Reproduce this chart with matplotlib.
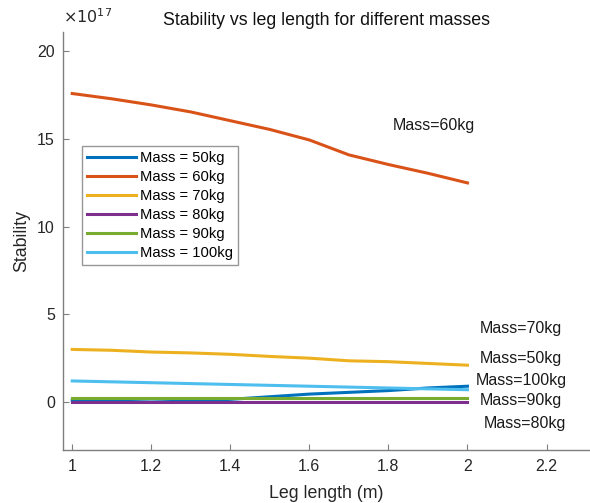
import matplotlib
matplotlib.use("Agg")
import matplotlib.pyplot as plt
from matplotlib.ticker import FuncFormatter
import numpy as np

plt.rcParams['font.family'] = ['Liberation Sans', 'DejaVu Sans']

leg_length = [1.0, 1.1, 1.2, 1.3, 1.4, 1.5, 1.6, 1.7, 1.8, 1.9, 2.0]
scale = 1e17
mass_50 = [0.10, 0.05, 0.00, 0.05, 0.15, 0.30, 0.45, 0.55, 0.65, 0.80, 0.90]
mass_60 = [17.6, 17.3, 16.95, 16.55, 16.05, 15.55, 14.95, 14.1, 13.55, 13.05, 12.5]
mass_70 = [3.0, 2.95, 2.85, 2.8, 2.72, 2.6, 2.5, 2.35, 2.3, 2.2, 2.1]
mass_80 = [0.0, 0.0, 0.0, 0.0, 0.0, 0.0, 0.0, 0.0, 0.0, 0.0, 0.0]
mass_90 = [0.2, 0.2, 0.2, 0.2, 0.2, 0.2, 0.2, 0.2, 0.2, 0.2, 0.2]
mass_100 = [1.2, 1.15, 1.1, 1.05, 1.0, 0.95, 0.9, 0.85, 0.8, 0.75, 0.7]

labels = ['Mass = 50kg', 'Mass = 60kg', 'Mass = 70kg', 'Mass = 80kg', 'Mass = 90kg', 'Mass = 100kg']
colors = ['#0072BD', '#D95319', '#EDB120', '#7E2F8E', '#77AC30', '#4DBEEE']
series = [mass_50, mass_60, mass_70, mass_80, mass_90, mass_100]

annot_text = ['Mass=60kg', 'Mass=70kg', 'Mass=50kg', 'Mass=100kg', 'Mass=90kg', 'Mass=80kg']
annot_x = [1.81, 2.03, 2.03, 2.02, 2.03, 2.04]
annot_y = [15.8, 4.17, 2.5, 1.2, 0.1, -1.2]

fig = plt.figure(figsize=(5.9, 5.03), dpi=100)
ax = fig.add_axes([0.107, 0.105, 0.893, 0.831])

for s, c, l in zip(series, colors, labels):
    ax.plot(leg_length, np.array(s) * scale, color=c, lw=2.2, label=l)

for t, x, y in zip(annot_text, annot_x, annot_y):
    ax.text(x, y * scale, t, fontsize=11.5, va='center', ha='left', color='#1a1a1a')

ax.set_xlim(0.977, 2.31)
ax.set_ylim(-2.75e17, 21.1e17)
ax.set_xticks([1, 1.2, 1.4, 1.6, 1.8, 2, 2.2])
ax.set_xticklabels(['1', '1.2', '1.4', '1.6', '1.8', '2', '2.2'])
ax.set_yticks(np.array([0, 5, 10, 15, 20]) * scale)
ax.yaxis.set_major_formatter(FuncFormatter(lambda v, p: f'{v / scale:g}'))
ax.text(0.0, 1.015, r'$\times10^{17}$', transform=ax.transAxes, fontsize=11.5,
        ha='left', va='bottom', color='#262626')

for sp in ['top', 'right']:
    ax.spines[sp].set_visible(False)
for sp in ['left', 'bottom']:
    ax.spines[sp].set_color('#7f7f7f')
    ax.spines[sp].set_linewidth(1.0)
ax.tick_params(direction='in', labelcolor='#262626', labelsize=11.5, length=4, width=0.8,
               color='#7f7f7f', pad=6)

ax.set_title('Stability vs leg length for different masses', fontsize=12.8, color='#111111', pad=5)
ax.set_xlabel('Leg length (m)', fontsize=12.8, color='#262626', labelpad=8)
ax.set_ylabel('Stability', fontsize=12.8, color='#262626', labelpad=5)

leg = ax.legend(loc='upper left', bbox_to_anchor=(0.036, 0.727), fontsize=10.6,
                frameon=True, fancybox=False, edgecolor='#7f7f7f', handlelength=3.3,
                borderpad=0.35, labelspacing=0.33, handletextpad=0.3, borderaxespad=0)
leg.get_frame().set_linewidth(1.0)

fig.savefig('out.png', dpi=100)
